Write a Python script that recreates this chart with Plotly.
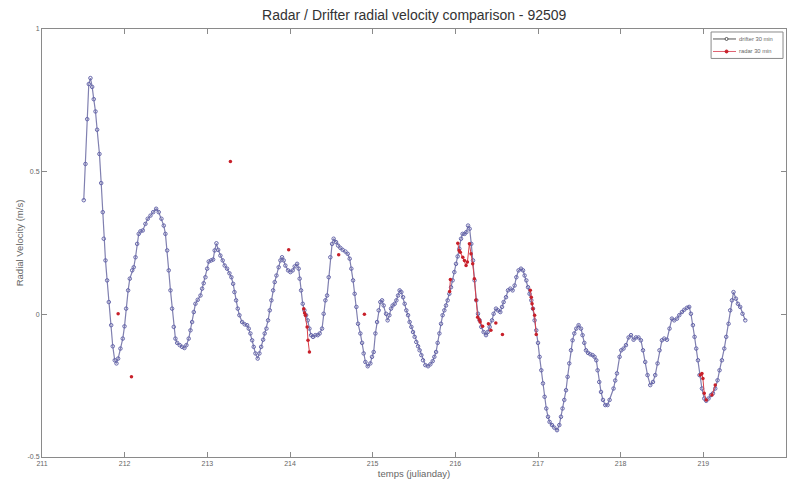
import plotly.graph_objects as go

title_text = "Radar / Drifter radial velocity comparison - 92509"
x_title = "temps (julianday)"
y_title = "Radial Velocity (m/s)"
x_ticks = [211, 212, 213, 214, 215, 216, 217, 218, 219, 220]
y_ticks = [-0.5, 0, 0.5, 1]
y_tick_labels = ["-0.5", "0", "0.5", "1"]
legend_names = ["drifter 30 min", "radar 30 min"]

drifter_t = [
    211.505, 211.526, 211.547, 211.566, 211.586, 211.607, 211.626, 211.647, 211.667, 211.695,
    211.716, 211.735, 211.747, 211.768, 211.788, 211.808, 211.837, 211.856, 211.880, 211.901,
    211.921, 211.949, 211.977, 211.998, 212.018, 212.042, 212.062, 212.091, 212.110, 212.131,
    212.151, 212.170, 212.191, 212.219, 212.251, 212.279, 212.312, 212.345, 212.381, 212.412,
    212.445, 212.473, 212.493, 212.514, 212.533, 212.554, 212.574, 212.594, 212.614, 212.635,
    212.666, 212.695, 212.723, 212.747, 212.775, 212.796, 212.816, 212.836, 212.856, 212.884,
    212.917, 212.937, 212.956, 212.977, 212.998, 213.017, 213.046, 213.070, 213.089, 213.110,
    213.131, 213.158, 213.186, 213.210, 213.239, 213.267, 213.291, 213.312, 213.328, 213.348,
    213.368, 213.388, 213.421, 213.452, 213.481, 213.501, 213.521, 213.542, 213.561, 213.582,
    213.609, 213.630, 213.651, 213.675, 213.694, 213.715, 213.735, 213.755, 213.775, 213.796,
    213.815, 213.836, 213.863, 213.884, 213.904, 213.924, 213.944, 213.977, 214.005, 214.033,
    214.057, 214.086, 214.105, 214.117, 214.134, 214.154, 214.174, 214.195, 214.214, 214.235,
    214.255, 214.279, 214.307, 214.335, 214.359, 214.388, 214.407, 214.428, 214.449, 214.468,
    214.488, 214.509, 214.528, 214.557, 214.582, 214.609, 214.637, 214.670, 214.698, 214.722,
    214.742, 214.763, 214.782, 214.803, 214.823, 214.851, 214.872, 214.891, 214.912, 214.940,
    214.972, 214.992, 215.012, 215.033, 215.053, 215.073, 215.093, 215.114, 215.133, 215.162,
    215.181, 215.202, 215.222, 215.242, 215.266, 215.287, 215.307, 215.326, 215.347, 215.368,
    215.387, 215.407, 215.428, 215.447, 215.468, 215.488, 215.508, 215.528, 215.549, 215.568,
    215.589, 215.609, 215.637, 215.670, 215.698, 215.726, 215.746, 215.767, 215.786, 215.807,
    215.827, 215.846, 215.867, 215.887, 215.907, 215.927, 215.948, 215.967, 215.988, 216.008,
    216.028, 216.048, 216.069, 216.088, 216.112, 216.133, 216.154, 216.173, 216.193, 216.214,
    216.233, 216.254, 216.274, 216.294, 216.314, 216.342, 216.371, 216.391, 216.415, 216.444,
    216.463, 216.492, 216.516, 216.544, 216.565, 216.584, 216.613, 216.637, 216.665, 216.693,
    216.717, 216.738, 216.765, 216.794, 216.819, 216.838, 216.859, 216.879, 216.898, 216.919,
    216.939, 216.959, 216.979, 217.000, 217.019, 217.040, 217.060, 217.080, 217.100, 217.121,
    217.140, 217.169, 217.197, 217.230, 217.258, 217.278, 217.297, 217.318, 217.339, 217.358,
    217.378, 217.399, 217.418, 217.439, 217.463, 217.491, 217.520, 217.539, 217.560, 217.580,
    217.605, 217.632, 217.660, 217.684, 217.705, 217.721, 217.741, 217.762, 217.786, 217.814,
    217.841, 217.866, 217.914, 217.934, 217.955, 217.987, 218.007, 218.035, 218.064, 218.096,
    218.125, 218.156, 218.185, 218.216, 218.245, 218.270, 218.297, 218.325, 218.358, 218.391,
    218.418, 218.446, 218.470, 218.499, 218.527, 218.560, 218.591, 218.620, 218.648, 218.681,
    218.709, 218.741, 218.769, 218.802, 218.829, 218.850, 218.874, 218.894, 218.914, 218.935,
    218.954, 218.983, 219.011, 219.035, 219.063, 219.092, 219.116, 219.144, 219.172, 219.196,
    219.225, 219.253, 219.277, 219.305, 219.325, 219.346, 219.365, 219.394, 219.418, 219.446,
    219.474, 219.507,
]
drifter_v = [
    0.400, 0.527, 0.684, 0.807, 0.828, 0.797, 0.754, 0.711, 0.647, 0.562,
    0.460, 0.358, 0.265, 0.189, 0.119, 0.043, -0.038, -0.112, -0.161, -0.172,
    -0.155, -0.120, -0.085, -0.042, 0.020, 0.084, 0.125, 0.154, 0.165, 0.200,
    0.247, 0.282, 0.291, 0.294, 0.317, 0.335, 0.346, 0.358, 0.370, 0.358,
    0.335, 0.311, 0.282, 0.224, 0.154, 0.084, 0.020, -0.044, -0.085, -0.100,
    -0.108, -0.114, -0.118, -0.108, -0.085, -0.056, -0.027, 0.008, 0.037, 0.051,
    0.066, 0.090, 0.109, 0.130, 0.160, 0.185, 0.189, 0.192, 0.224, 0.249,
    0.226, 0.206, 0.189, 0.171, 0.160, 0.144, 0.130, 0.107, 0.078, 0.049,
    0.020, -0.003, -0.027, -0.035, -0.038, -0.050, -0.067, -0.091, -0.114, -0.137,
    -0.155, -0.137, -0.114, -0.089, -0.067, -0.050, -0.021, 0.014, 0.049, 0.084,
    0.113, 0.136, 0.165, 0.189, 0.200, 0.189, 0.171, 0.154, 0.148, 0.154,
    0.168, 0.177, 0.160, 0.125, 0.084, 0.037, 0.014, -0.003, -0.021, -0.050,
    -0.073, -0.079, -0.073, -0.073, -0.067, -0.050, 0.002, 0.049, 0.066, 0.130,
    0.200, 0.247, 0.265, 0.253, 0.241, 0.233, 0.226, 0.220, 0.212, 0.195,
    0.160, 0.119, 0.072, 0.026, -0.033, -0.067, -0.100, -0.137, -0.167, -0.182,
    -0.172, -0.149, -0.132, -0.067, -0.027, 0.014, 0.043, 0.049, 0.031, 0.002,
    -0.021, -0.003, 0.020, 0.031, 0.037, 0.049, 0.066, 0.084, 0.078, 0.060,
    0.037, 0.014, -0.003, -0.027, -0.044, -0.062, -0.079, -0.097, -0.112, -0.126,
    -0.143, -0.161, -0.178, -0.182, -0.175, -0.164, -0.149, -0.132, -0.100, -0.067,
    -0.033, -0.003, 0.014, 0.031, 0.049, 0.072, 0.095, 0.119, 0.148, 0.177,
    0.203, 0.230, 0.265, 0.282, 0.282, 0.288, 0.311, 0.300, 0.247, 0.189,
    0.119, 0.049, 0.002, -0.021, -0.044, -0.062, -0.073, -0.062, -0.044, -0.021,
    0.002, 0.020, 0.014, 0.008, 0.026, 0.043, 0.060, 0.084, 0.090, 0.084,
    0.101, 0.130, 0.154, 0.160, 0.154, 0.136, 0.119, 0.095, 0.072, 0.049,
    0.020, -0.021, -0.056, -0.100, -0.149, -0.196, -0.242, -0.289, -0.330, -0.359,
    -0.377, -0.388, -0.397, -0.406, -0.388, -0.359, -0.330, -0.300, -0.266, -0.219,
    -0.172, -0.126, -0.091, -0.067, -0.050, -0.038, -0.050, -0.073, -0.100, -0.126,
    -0.135, -0.140, -0.143, -0.149, -0.161, -0.196, -0.237, -0.272, -0.300, -0.318,
    -0.318, -0.300, -0.260, -0.232, -0.207, -0.149, -0.126, -0.120, -0.108, -0.081,
    -0.073, -0.089, -0.081, -0.081, -0.091, -0.126, -0.167, -0.213, -0.248, -0.237,
    -0.213, -0.172, -0.126, -0.091, -0.085, -0.089, -0.050, -0.015, -0.021, -0.015,
    -0.003, 0.008, 0.016, 0.023, 0.026, 0.002, -0.038, -0.079, -0.120, -0.161,
    -0.213, -0.260, -0.295, -0.303, -0.295, -0.283, -0.277, -0.260, -0.231, -0.196,
    -0.161, -0.120, -0.079, -0.033, 0.014, 0.049, 0.078, 0.055, 0.037, 0.026,
    0.002, -0.021,
]

# radar samples; None separates non-consecutive samples
radar_t = [
    211.921, None, 212.082, None, 213.279, None, 213.984, None,
    214.166, 214.176, 214.187, 214.207, 214.218, 214.235, None,
    214.589, None, 214.900, None,
    215.931, 215.940, None,
    216.030, 216.045, 216.060, 216.090, 216.110, 216.130, 216.146, 216.170, 216.190,
    216.210, 216.230, 216.250, 216.270, 216.290, 216.300, 216.330, None,
    216.400, None, 216.430, None, 216.490, None, 216.570, None,
    216.907, 216.919, 216.928, 216.939, 216.959, 216.979, None,
    218.963, 218.983, 218.995, 219.011, 219.035, None,
    219.104, 219.144,
]
radar_v = [
    0.002, None, -0.219, None, 0.536, None, 0.226, None,
    0.020, 0.005, -0.003, -0.044, -0.091, -0.132, None,
    0.209, None, 0.000, None,
    0.080, 0.122, None,
    0.249, 0.224, 0.218, 0.200, 0.189, 0.171, 0.183, 0.247, 0.212,
    0.177, 0.125, 0.050, -0.010, -0.019, -0.027, -0.042, None,
    -0.033, None, -0.056, None, -0.030, None, -0.071, None,
    0.084, 0.060, 0.037, 0.020, -0.003, -0.071, None,
    -0.213, -0.207, -0.225, -0.277, -0.300, None,
    -0.283, -0.248,
]

FONT = "Liberation Sans, Arial, sans-serif"
DRIFTER_LINE = "#8080b0"
DRIFTER_MARK = "#6565aa"
RADAR_LINE = "#d8404a"
RADAR_MARK = "#c8202a"

fig = go.Figure()
fig.add_trace(go.Scatter(
    x=drifter_t, y=drifter_v, mode="lines+markers", name=legend_names[0],
    line=dict(color=DRIFTER_LINE, width=1.2),
    marker=dict(symbol="circle-open", size=3.5, color=DRIFTER_MARK, line=dict(width=1)),
    showlegend=False,
))
fig.add_trace(go.Scatter(
    x=radar_t, y=radar_v, mode="lines+markers", name=legend_names[1],
    connectgaps=False,
    line=dict(color=RADAR_LINE, width=1),
    marker=dict(symbol="circle", size=3.5, color=RADAR_MARK),
    showlegend=False,
))

axis_common = dict(
    showline=True, linecolor="#8a8a8a", linewidth=1, mirror="ticks",
    ticks="inside", ticklen=5, tickcolor="#8a8a8a", tickwidth=1,
    showgrid=False, zeroline=False,
    tickfont=dict(family=FONT, size=7, color="#666666"),
)

# compact MATLAB-style legend box (paper coordinates)
box = dict(x0=0.8993, x1=0.9960, y0=0.9312, y1=0.9930)
rows_y = [0.9767, 0.9475]
sample_x = (0.9019, 0.9328)
mark_x = 0.9201
text_x = 0.9345
legend_line_colors = ["#555555", "#e06070"]
legend_mark_colors = ["#555555", RADAR_MARK]

shapes = [dict(type="rect", xref="paper", yref="paper", **box,
               line=dict(color="#8a8a8a", width=1), fillcolor="white", layer="above")]
annotations = []
for i, name in enumerate(legend_names):
    shapes.append(dict(type="line", xref="paper", yref="paper",
                       x0=sample_x[0], x1=sample_x[1], y0=rows_y[i], y1=rows_y[i],
                       line=dict(color=legend_line_colors[i], width=1), layer="above"))
    shapes.append(dict(type="circle", xref="paper", yref="paper",
                       xsizemode="pixel", ysizemode="pixel",
                       xanchor=mark_x, yanchor=rows_y[i],
                       x0=-1.5, x1=1.5, y0=-1.5, y1=1.5,
                       line=dict(color=legend_mark_colors[i], width=1),
                       fillcolor="white" if i == 0 else legend_mark_colors[i],
                       layer="above"))
    annotations.append(dict(text=name, xref="paper", yref="paper",
                            x=text_x, y=rows_y[i], xanchor="left", yanchor="middle",
                            showarrow=False,
                            font=dict(family=FONT, size=5.8, color="#666666")))

fig.update_layout(
    width=789, height=483,
    margin=dict(l=41.5, r=3, t=29, b=25.5),
    paper_bgcolor="white", plot_bgcolor="white",
    title=dict(text=title_text, x=0.525, xanchor="center", y=0.968, yanchor="middle",
               font=dict(family=FONT, size=14, color="#333333")),
    xaxis=dict(axis_common, range=[211, 220], tickvals=x_ticks,
               title=dict(text=x_title, standoff=3,
                          font=dict(family=FONT, size=9.5, color="#666666"))),
    yaxis=dict(axis_common, range=[-0.5, 1], tickvals=y_ticks, ticktext=y_tick_labels,
               title=dict(text=y_title, standoff=2,
                          font=dict(family=FONT, size=9.5, color="#666666"))),
    shapes=shapes,
    annotations=annotations,
    showlegend=False,
)

fig.write_html("out.html", config={"displayModeBar": False},
               post_script="document.body.style.margin='0';")
